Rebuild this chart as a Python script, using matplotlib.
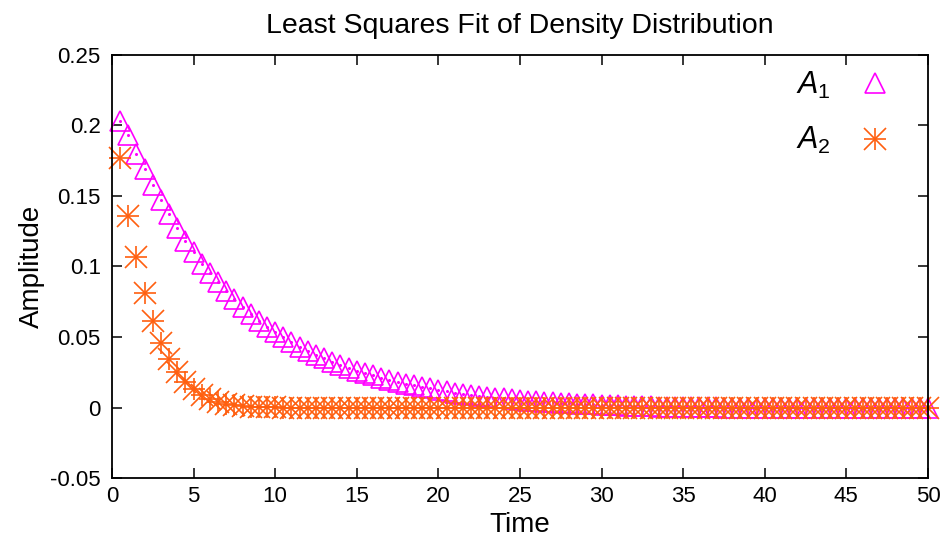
import matplotlib
matplotlib.use("Agg")
import matplotlib.pyplot as plt
from matplotlib.ticker import FormatStrFormatter
from matplotlib.legend_handler import HandlerTuple

plt.rcParams["font.family"] = ["Liberation Sans", "DejaVu Sans"]
plt.rcParams["mathtext.fontset"] = "custom"
plt.rcParams["mathtext.it"] = "Liberation Sans:italic"
plt.rcParams["mathtext.rm"] = "Liberation Sans"

# time samples every 0.5 from 0.5 to 50
time = [0.5 * (i + 1) for i in range(100)]

amp_a1 = [
    0.2030, 0.1930, 0.1800, 0.1690, 0.1580, 0.1470, 0.1370, 0.1270, 0.1180, 0.1100,
    0.1020, 0.0953, 0.0887, 0.0825, 0.0768, 0.0711, 0.0662, 0.0616, 0.0574, 0.0534,
    0.0497, 0.0463, 0.0431, 0.0401, 0.0374, 0.0348, 0.0324, 0.0302, 0.0281, 0.0261,
    0.0243, 0.0227, 0.0211, 0.0196, 0.0183, 0.0170, 0.0158, 0.0147, 0.0137, 0.0125,
    0.0115, 0.0106, 0.0098, 0.0090, 0.0083, 0.0076, 0.0070, 0.0064, 0.0059, 0.0054,
    0.0049, 0.0045, 0.0041, 0.0037, 0.0033, 0.0030, 0.0027, 0.0024, 0.0022, 0.0019,
    0.0017, 0.0015, 0.0013, 0.0011, 0.0010, 0.0008, 0.0007, 0.0006, 0.0005, 0.0004,
    0.0003, 0.0002, 0.0001, 0.0001, 0.0000, -0.0001, -0.0001, -0.0002, -0.0002, -0.0002,
    -0.0003, -0.0003, -0.0003, -0.0003, -0.0003, -0.0003, -0.0003, -0.0003, -0.0003, -0.0002,
    -0.0002, -0.0002, -0.0002, -0.0002, -0.0002, -0.0002, -0.0001, -0.0001, -0.0001, -0.0001,
]

amp_a2 = [
    0.1770, 0.1355, 0.1066, 0.0810, 0.0610, 0.0456, 0.0345, 0.0255, 0.0184, 0.0133,
    0.0090, 0.0062, 0.0040, 0.0026, 0.0017, 0.0011, 0.0007, 0.0004, 0.0002, 0.0001,
    0.0000, 0.0000, 0.0000, 0.0000, 0.0000, 0.0000, 0.0000, 0.0000, 0.0000, 0.0000,
    0.0000, 0.0000, 0.0000, 0.0000, 0.0000, 0.0000, 0.0000, 0.0000, 0.0000, 0.0000,
    0.0000, 0.0000, 0.0000, 0.0000, 0.0000, 0.0000, 0.0000, 0.0000, 0.0000, 0.0000,
    0.0000, 0.0000, 0.0000, 0.0000, 0.0000, 0.0000, 0.0000, 0.0000, 0.0000, 0.0000,
    0.0000, 0.0000, 0.0000, 0.0000, 0.0000, 0.0000, 0.0000, 0.0000, 0.0000, 0.0000,
    0.0000, 0.0000, 0.0000, 0.0000, 0.0000, 0.0000, 0.0000, 0.0000, 0.0000, 0.0000,
    0.0000, 0.0000, 0.0000, 0.0000, 0.0000, 0.0000, 0.0000, 0.0000, 0.0000, 0.0000,
    0.0000, 0.0000, 0.0000, 0.0000, 0.0000, 0.0000, 0.0000, 0.0000, 0.0000, 0.0000,
]

x_ticks = [0, 5, 10, 15, 20, 25, 30, 35, 40, 45, 50]
y_ticks = [-0.05, 0, 0.05, 0.1, 0.15, 0.2, 0.25]

c_a1 = "#ff00ff"
c_a2 = "#ff5f0f"

fig = plt.figure(figsize=(9.44, 5.38), dpi=100)
ax = fig.add_axes([0.1186, 0.1115, 0.8644, 0.7863])

# A1: open triangles with a small centre dot
h_a1, = ax.plot(time, amp_a1, linestyle="none", marker="^", ms=14.5,
                mfc="none", mec=c_a1, mew=1.2, clip_on=False)
ax.plot(time, amp_a1, linestyle="none", marker="o", ms=1.2,
        mfc=c_a1, mec=c_a1, clip_on=False)

# A2: asterisk built from '+' and 'x'
h_a2p, = ax.plot(time, amp_a2, linestyle="none", marker="+", ms=16.5,
                 mec=c_a2, mew=1.2, clip_on=False)
h_a2x, = ax.plot(time, amp_a2, linestyle="none", marker="x", ms=16.5,
                 mec=c_a2, mew=1.2, clip_on=False)

ax.set_xlim(0, 50)
ax.set_ylim(-0.05, 0.25)
ax.set_xticks(x_ticks)
ax.set_yticks(y_ticks)
ax.yaxis.set_major_formatter(FormatStrFormatter("%g"))
ax.tick_params(axis="both", which="major", direction="in", length=7, width=1.1,
               top=True, right=True, labelsize=16)
ax.tick_params(axis="y", pad=8)
ax.tick_params(axis="x", pad=6)
for sp in ax.spines.values():
    sp.set_linewidth(1.3)

ax.set_title("Least Squares Fit of Density Distribution", fontsize=20.5, pad=16)
ax.set_xlabel("Time", fontsize=20, labelpad=3)
ax.set_ylabel("Amplitude", fontsize=20, labelpad=4)

ax.legend([h_a1, (h_a2p, h_a2x)], ["$A_1$", "$A_2$"],
          handler_map={tuple: HandlerTuple(ndivide=1)},
          loc="upper right", bbox_to_anchor=(0.99, 1.03), frameon=False,
          markerfirst=False, fontsize=22, handlelength=1.1, handletextpad=0.9,
          labelspacing=0.8, numpoints=1)

fig.savefig("out.png", dpi=100)
